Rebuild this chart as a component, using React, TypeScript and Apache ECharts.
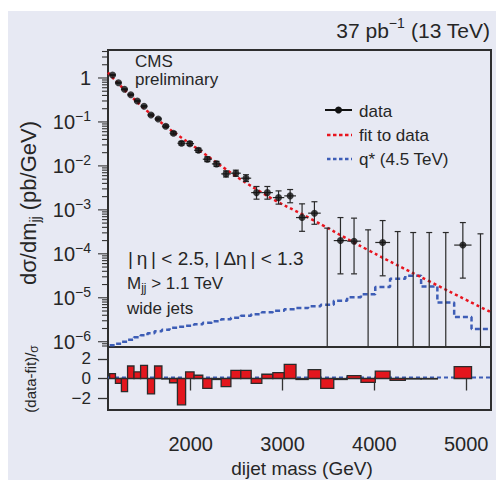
import React, { useEffect, useRef } from "react";
import * as echarts from "echarts";

const FONT = "'Liberation Sans', Arial, sans-serif";
const TXT = "#262626";

// dijet mass bin edges (GeV)
const binEdges = [1118, 1181, 1246, 1313, 1383, 1455, 1530, 1607, 1687, 1770, 1856, 1945, 2037, 2132, 2231, 2332, 2438, 2546, 2659, 2775, 2895, 3019, 3147, 3279, 3416, 3558, 3704, 3854, 4010, 4171, 4337, 4509, 4686, 4869, 5058, 5253];
// measured dσ/dm (pb/GeV); null = empty bin
const dataValues = [1.17, 0.78, 0.553, 0.417, 0.30, 0.227, 0.144, 0.117, 0.0798, 0.0554, 0.0328, 0.0321, 0.0227, 0.0142, 0.0111, 0.00658, 0.00682, 0.00525, 0.00247, 0.00247, 0.0019, 0.00208, 0.000668, 0.000841, null, 0.0002, 0.000194, null, 0.000181, null, null, null, null, 0.000158, null];
const dataLow = [1.14, 0.76, 0.54, 0.405, 0.29, 0.218, 0.137, 0.111, 0.0745, 0.051, 0.0298, 0.029, 0.0203, 0.0125, 0.0097, 0.0056, 0.0058, 0.0044, 0.00175, 0.00175, 0.00135, 0.00145, 0.000325, 0.00047, null, 0.000035, 0.000035, null, 0.0000316, null, null, null, null, 0.000028, null];
const dataHigh = [1.2, 0.8, 0.566, 0.43, 0.31, 0.236, 0.151, 0.123, 0.0855, 0.06, 0.036, 0.0354, 0.0253, 0.0161, 0.0127, 0.0077, 0.008, 0.0063, 0.0034, 0.0034, 0.0027, 0.0029, 0.00137, 0.00153, 0.000384, 0.000668, 0.000648, 0.000351, 0.000571, 0.000321, 0.000305, 0.000305, 0.000305, 0.000514, 0.000285];
// (data-fit)/sigma per bin
const residuals = [0.5, -0.5, -1.33, 1.27, 0.67, 1.33, -1.57, 1.27, -0.05, -0.43, -2.67, 0.67, 0.33, -1.0, -0.1, -0.83, 0.83, 0.83, -0.5, 0.43, 0.6, 1.43, -0.1, 0.9, -1.0, -0.1, 0.3, -0.4, 0.75, -0.2, -0.05, -0.05, null, 1.2, null];
// q* (4.5 TeV) signal shape per bin
const signalValues = [8.3e-7, 9.0e-7, 1.0e-6, 1.11e-6, 1.26e-6, 1.41e-6, 1.56e-6, 1.73e-6, 1.87e-6, 2.08e-6, 2.19e-6, 2.31e-6, 2.5e-6, 2.7e-6, 2.92e-6, 3.25e-6, 3.51e-6, 3.9e-6, 4.22e-6, 4.68e-6, 5.07e-6, 5.48e-6, 5.84e-6, 6.41e-6, 6.93e-6, 8.55e-6, 1.03e-5, 1.2e-5, 1.75e-5, 2.7e-5, 3.16e-5, 1.81e-5, 7.82e-6, 3.64e-6, 1.94e-6];
// fit to data
const fitMass = [1100, 1536, 2101, 2753, 3329, 3928, 4601, 5270];
const fitValues = [1.33, 0.171, 0.0223, 0.00263, 0.000593, 0.000123, 2.35e-5, 4.68e-6];

const yTickExponents = [-6, -5, -4, -3, -2, -1, 0];
const xTickLabels = [2000, 3000, 4000, 5000];
const ratioTicks = [-2, 0, 2];

const X_MIN = 1100;
const X_MAX = 5270;
const Y_MIN = 7.59e-7;
const Y_MAX = 4.33;

function buildOption() {
  const nBins = binEdges.length - 1;
  const errData: number[][] = [];
  const pointData: number[][] = [];
  const barData: number[][] = [];
  const sigData: number[][] = [];
  for (let i = 0; i < nBins; i++) {
    const lo = binEdges[i];
    const hi = binEdges[i + 1];
    const c = (lo + hi) / 2;
    const v = dataValues[i];
    const empty = v === null;
    errData.push([c, empty ? Y_MIN : (v as number), empty ? Y_MIN : (dataLow[i] as number), dataHigh[i], lo, hi, empty ? 1 : 0]);
    if (!empty) pointData.push([c, v as number]);
    if (residuals[i] !== null) barData.push([lo, hi, residuals[i] as number]);
    sigData.push([lo, signalValues[i]]);
    sigData.push([hi, signalValues[i]]);
  }
  const fitData = fitMass.map((m, i) => [m, fitValues[i]]);

  const tickData: number[][] = [];
  const eMin = yTickExponents[0] - 1;
  const eMax = yTickExponents[yTickExponents.length - 1];
  for (let e = eMin; e <= eMax; e++) {
    for (let k = 1; k <= 9; k++) {
      const v = k * Math.pow(10, e);
      if (v >= Y_MIN && v <= Y_MAX) tickData.push([X_MIN, v, k === 1 ? 1 : 0]);
    }
  }

  return {
    animation: false,
    backgroundColor: "#e7e9f3",
    textStyle: { fontFamily: FONT },
    grid: [
      { left: 100, top: 39, width: 383, height: 297, show: true, borderColor: "#2e2e2e", borderWidth: 2, backgroundColor: "transparent" },
      { left: 100, top: 336, width: 383, height: 63, show: true, borderColor: "#2e2e2e", borderWidth: 2, backgroundColor: "transparent" },
    ],
    xAxis: [
      { gridIndex: 0, type: "value", min: X_MIN, max: X_MAX, show: false },
      {
        gridIndex: 1, type: "value", min: X_MIN, max: X_MAX,
        axisLine: { show: false },
        splitLine: { show: false },
        axisTick: { show: true, customValues: xTickLabels, length: 12, inside: false, lineStyle: { color: "#333", width: 1.3 } },
        axisLabel: { customValues: xTickLabels, fontSize: 20, margin: 24, color: TXT, fontFamily: FONT, formatter: (v: number) => String(v) },
      },
    ],
    yAxis: [
      {
        gridIndex: 0, type: "log", logBase: 10, min: Y_MIN, max: Y_MAX,
        axisLine: { show: false },
        axisTick: { show: false },
        splitLine: { show: false },
        axisLabel: {
          showMinLabel: false, showMaxLabel: false, margin: 17,
          formatter: (v: number) => {
            const e = Math.round(Math.log10(v));
            if (e === 0) return "{b|1}";
            return "{b|10}{s|" + (e < 0 ? "\u2212" : "") + Math.abs(e) + "}";
          },
          rich: {
            b: { fontSize: 20, lineHeight: 26, color: TXT, fontFamily: FONT },
            s: { fontSize: 14, lineHeight: 14, verticalAlign: "top", color: TXT, fontFamily: FONT },
          },
        },
      },
      {
        gridIndex: 1, type: "value", min: -3.2, max: 3.2,
        axisLine: { show: false },
        splitLine: { show: false },
        axisTick: { show: true, customValues: ratioTicks, length: 10, inside: false, lineStyle: { color: "#333", width: 1.3 } },
        axisLabel: {
          customValues: ratioTicks, fontSize: 17, margin: 17, color: TXT, fontFamily: FONT,
          formatter: (v: number) => (v < 0 ? "\u2212" + Math.abs(v) : String(v)),
        },
      },
    ],
    series: [
      {
        type: "custom", name: "yticks", xAxisIndex: 0, yAxisIndex: 0, silent: true, clip: false,
        data: tickData,
        encode: { x: 0, y: 1 },
        renderItem: (params: any, api: any) => {
          const p = api.coord([api.value(0), api.value(1)]);
          const len = api.value(2) ? 10 : 6;
          return { type: "line", shape: { x1: p[0] - len, y1: p[1], x2: p[0] - 1, y2: p[1] }, style: { stroke: "#333", lineWidth: 1.1 } };
        },
      },
      {
        type: "line", name: "q* (4.5 TeV)", xAxisIndex: 0, yAxisIndex: 0,
        data: sigData, showSymbol: false, z: 2,
        lineStyle: { color: "#3d5db6", width: 2.5, type: [5, 3] },
      },
      {
        type: "line", name: "fit to data", xAxisIndex: 0, yAxisIndex: 0,
        data: fitData, showSymbol: false, smooth: true, z: 3,
        lineStyle: { color: "#e8141e", width: 2.5, type: [3, 3] },
      },
      {
        type: "custom", name: "errors", xAxisIndex: 0, yAxisIndex: 0, silent: true, clip: false, z: 4,
        data: errData,
        encode: { x: 0, y: 1 },
        renderItem: (params: any, api: any) => {
          const x = api.value(0);
          const top = api.coord([x, api.value(3)]);
          const bot = api.coord([x, api.value(2)]);
          const children: any[] = [];
          const st = { stroke: "#2a2a2a", lineWidth: 1.2 };
          children.push({ type: "line", shape: { x1: top[0], y1: top[1], x2: bot[0], y2: bot[1] }, style: st });
          children.push({ type: "line", shape: { x1: top[0] - 3, y1: top[1], x2: top[0] + 3, y2: top[1] }, style: st });
          if (!api.value(6)) {
            children.push({ type: "line", shape: { x1: bot[0] - 3, y1: bot[1], x2: bot[0] + 3, y2: bot[1] }, style: st });
            const a = api.coord([api.value(4), api.value(1)]);
            const b = api.coord([api.value(5), api.value(1)]);
            children.push({ type: "line", shape: { x1: a[0], y1: a[1], x2: b[0], y2: b[1] }, style: st });
          }
          return { type: "group", children };
        },
      },
      {
        type: "scatter", name: "data", xAxisIndex: 0, yAxisIndex: 0, z: 5,
        data: pointData, symbol: "circle", symbolSize: 7,
        itemStyle: { color: "#111" },
      },
      {
        type: "line", name: "signal residual", xAxisIndex: 1, yAxisIndex: 1,
        data: [[X_MIN, 0.1], [X_MAX, 0.1]], showSymbol: false, z: 2,
        lineStyle: { color: "#3d5db6", width: 2.2, type: [4, 3] },
      },
      {
        type: "custom", name: "residuals", xAxisIndex: 1, yAxisIndex: 1, z: 3,
        data: barData,
        encode: { x: [0, 1], y: 2 },
        renderItem: (params: any, api: any) => {
          const p1 = api.coord([api.value(0), api.value(2)]);
          const p2 = api.coord([api.value(1), 0]);
          return {
            type: "rect",
            shape: { x: p1[0], y: Math.min(p1[1], p2[1]), width: p2[0] - p1[0], height: Math.abs(p2[1] - p1[1]) },
            style: { fill: "#e3161d", stroke: "#2b2b2b", lineWidth: 1.3 },
          };
        },
      },
    ],
    graphic: [
      {
        type: "text", x: 482, y: 19,
        style: {
          text: "{m|37 pb}{s|\u22121}{m| (13 TeV)}",
          rich: {
            m: { fontSize: 21, lineHeight: 28, fill: TXT, fontFamily: FONT },
            s: { fontSize: 14, lineHeight: 14, verticalAlign: "top", fill: TXT, fontFamily: FONT },
          },
          align: "right", verticalAlign: "middle", textAlign: "right", textVerticalAlign: "middle",
        },
      },
      { type: "text", x: 127, y: 50, style: { text: "CMS", fontSize: 17, fontFamily: FONT, fill: TXT, align: "left", verticalAlign: "middle" } },
      { type: "text", x: 127, y: 68, style: { text: "preliminary", fontSize: 17, fontFamily: FONT, fill: TXT, align: "left", verticalAlign: "middle" } },
      // legend
      { type: "line", shape: { x1: 317, y1: 99, x2: 344, y2: 99 }, style: { stroke: "#111", lineWidth: 2 } },
      { type: "circle", shape: { cx: 330.5, cy: 99, r: 3.5 }, style: { fill: "#111" } },
      { type: "text", x: 351, y: 100, style: { text: "data", fontSize: 17, fontFamily: FONT, fill: TXT, align: "left", verticalAlign: "middle" } },
      { type: "line", shape: { x1: 319, y1: 124, x2: 344, y2: 124 }, style: { stroke: "#e8141e", lineWidth: 2.5, lineDash: [3.5, 2.5] } },
      { type: "text", x: 351, y: 124, style: { text: "fit to data", fontSize: 17, fontFamily: FONT, fill: TXT, align: "left", verticalAlign: "middle" } },
      { type: "line", shape: { x1: 319, y1: 148, x2: 344, y2: 148 }, style: { stroke: "#3d5db6", lineWidth: 2.5, lineDash: [3.5, 2.5] } },
      { type: "text", x: 351, y: 148, style: { text: "q* (4.5 TeV)", fontSize: 17, fontFamily: FONT, fill: TXT, align: "left", verticalAlign: "middle" } },
      // selection annotations
      { type: "text", x: 120, y: 247, style: { text: "|\u2009\u03b7\u2009| < 2.5, |\u2009\u0394\u03b7\u2009| < 1.3", fontSize: 19, fontFamily: FONT, fill: TXT, align: "left", verticalAlign: "middle" } },
      {
        type: "text", x: 119, y: 272,
        style: {
          text: "{m|M}{s|jj}{m| > 1.1 TeV}",
          rich: {
            m: { fontSize: 17, lineHeight: 22, fill: TXT, fontFamily: FONT },
            s: { fontSize: 12, lineHeight: 12, verticalAlign: "bottom", fill: TXT, fontFamily: FONT },
          },
          align: "left", verticalAlign: "middle",
        },
      },
      { type: "text", x: 119, y: 297, style: { text: "wide jets", fontSize: 17, fontFamily: FONT, fill: TXT, align: "left", verticalAlign: "middle" } },
      // axis titles
      {
        type: "text", x: 20, y: 192, rotation: Math.PI / 2,
        style: {
          text: "{m|d\u03c3/dm}{s|jj}{m| (pb/GeV)}",
          rich: {
            m: { fontSize: 22, lineHeight: 28, fill: TXT, fontFamily: FONT },
            s: { fontSize: 14, lineHeight: 14, verticalAlign: "bottom", fill: TXT, fontFamily: FONT },
          },
          align: "center", verticalAlign: "middle",
        },
      },
      {
        type: "text", x: 22, y: 368, rotation: Math.PI / 2,
        style: {
          text: "{m|(data-fit)/}{s|\u03c3}",
          rich: {
            m: { fontSize: 15, lineHeight: 20, fill: TXT, fontFamily: FONT },
            s: { fontSize: 12, lineHeight: 12, verticalAlign: "bottom", fill: TXT, fontFamily: FONT },
          },
          align: "center", verticalAlign: "middle",
        },
      },
      { type: "text", x: 294, y: 457, style: { text: "dijet mass (GeV)", fontSize: 19, fontFamily: FONT, fill: TXT, align: "center", verticalAlign: "middle" } },
    ],
  };
}

export default function App() {
  const ref = useRef<HTMLDivElement>(null);
  useEffect(() => {
    if (!ref.current) return;
    const chart = echarts.init(ref.current, null, { renderer: "svg" });
    chart.setOption(buildOption() as any);
    return () => chart.dispose();
  }, []);
  return <div ref={ref} style={{ position: "absolute", left: 8, top: 11, width: 488, height: 469 }} />;
}
